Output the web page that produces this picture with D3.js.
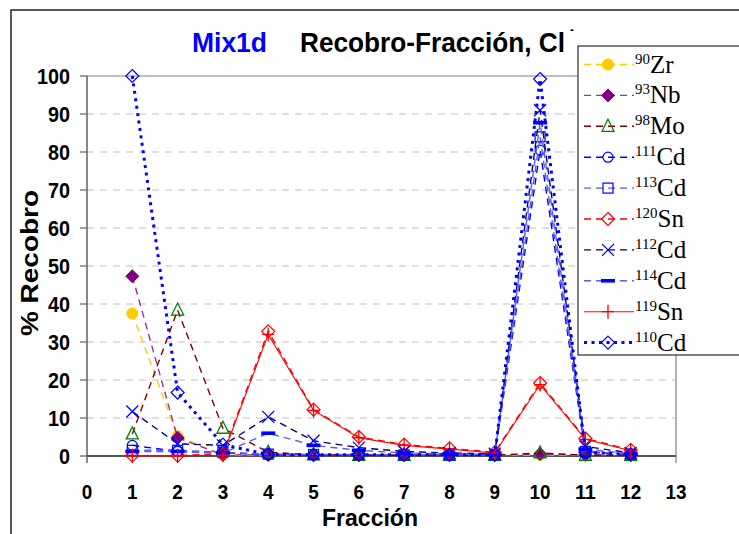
<!DOCTYPE html>
<html><head><meta charset="utf-8">
<script src="https://cdn.jsdelivr.net/npm/d3@7"></script>
<style>body{margin:0;background:#fff}svg{display:block}</style>
</head><body>
<svg id="c" width="739" height="534"></svg>
<script>
const fracciones = [1,2,3,4,5,6,7,8,9,10,11,12];
const xTicks = [0,1,2,3,4,5,6,7,8,9,10,11,12,13];
const yTicks = [0,10,20,30,40,50,60,70,80,90,100];
const zr90   = [37.5, 5.2, 0.3, 0.2, 0.2, 0.2, 0.2, 0.2, 0.2, 0.3, 0.2, 0.2];
const nb93   = [47.3, 4.8, 0.3, 0.3, 0.3, 0.3, 0.3, 0.3, 0.3, 0.5, 0.3, 0.2];
const mo98   = [5.8, 38.4, 7.3, 1.0, 0.3, 0.2, 0.2, 0.2, 0.2, 0.8, 0.2, 0.2];
const cd111  = [2.8, 1.2, 0.8, 0.4, 0.3, 0.3, 0.3, 0.3, 0.3, 80.5, 1.0, 0.5];
const cd113  = [1.5, 1.5, 1.0, 0.5, 0.4, 0.4, 0.3, 0.3, 0.3, 84.0, 1.2, 0.5];
const sn120  = [0.1, 0.1, 0.6, 32.8, 12.2, 5.0, 3.0, 2.0, 1.0, 19.2, 4.6, 1.6];
const cd112  = [11.7, 3.2, 2.8, 10.3, 4.0, 2.2, 1.2, 0.8, 0.6, 91.0, 2.5, 0.8];
const cd114  = [1.2, 1.2, 0.8, 6.0, 2.8, 1.5, 0.8, 0.6, 0.4, 87.7, 1.8, 0.6];
const sn119  = [0.0, 0.0, 0.2, 32.0, 12.0, 4.8, 2.8, 1.8, 0.8, 18.8, 4.4, 1.4];
const cd110  = [100, 16.7, 3.0, 0.4, 0.3, 0.3, 0.3, 0.3, 0.3, 99.2, 1.0, 0.4];

const series = [
  {mass:"90", el:"Zr", values:zr90, line:"#FFCC00", dash:"7,5", w:1.4, marker:"circleFill", mc:"#FFCC00"},
  {mass:"93", el:"Nb", values:nb93, line:"#993399", dash:"7,5", w:1.4, marker:"diamondFill", mc:"#800080"},
  {mass:"98", el:"Mo", values:mo98, line:"#800000", dash:"7,5", w:1.4, marker:"triangle", mc:"#008000"},
  {mass:"111", el:"Cd", values:cd111, line:"#0000FF", dash:"7,5", w:1.4, marker:"circle", mc:"#0000FF"},
  {mass:"113", el:"Cd", values:cd113, line:"#5A5AFF", dash:"7,5", w:1.4, marker:"square", mc:"#0000FF"},
  {mass:"120", el:"Sn", values:sn120, line:"#FF0000", dash:"7,5", w:1.4, marker:"diamond", mc:"#FF0000"},
  {mass:"112", el:"Cd", values:cd112, line:"#000080", dash:"7,5", w:1.4, marker:"x", mc:"#0000FF"},
  {mass:"114", el:"Cd", values:cd114, line:"#5A5AFF", dash:"7,5", w:1.4, marker:"dash", mc:"#0000FF"},
  {mass:"119", el:"Sn", values:sn119, line:"#FF0000", dash:null, w:1.1, marker:"plus", mc:"#FF0000"},
  {mass:"110", el:"Cd", values:cd110, line:"#0000FF", dash:"3,4.5", w:3, marker:"diamond", mc:"#0000FF"}
];

const svg = d3.select("#c");
const x = d3.scaleLinear().domain([0,13]).range([87,676]);
const y = d3.scaleLinear().domain([0,100]).range([456,76]);

// outer frame
svg.append("path").attr("d","M11,540 L11,10 L745,10").attr("fill","none").attr("stroke","#222").attr("stroke-width",1.5);

function txt(g, s, px, py, size, anchor, len, opts={}){
  const t = g.append("text").attr("x",px).attr("y",py).text(s)
    .attr("font-family","'Liberation Sans',Arial,sans-serif").attr("font-weight","bold")
    .attr("font-size",size).attr("text-anchor",anchor).attr("fill",opts.fill||"#000");
  if(len){ t.attr("textLength",len).attr("lengthAdjust","spacingAndGlyphs"); }
  if(opts.transform) t.attr("transform",opts.transform);
  return t;
}

// gridlines
svg.append("g").selectAll("line").data(yTicks.filter(v=>v>0&&v<100)).join("line")
  .attr("x1",x(0)).attr("x2",x(13)).attr("y1",d=>y(d)).attr("y2",d=>y(d))
  .attr("stroke","#C0C0C0").attr("stroke-width",1.2).attr("stroke-dasharray","7,6");
// plot border top & right
svg.append("path").attr("d",`M${x(0)},${y(100)} L${x(13)},${y(100)} L${x(13)},463`)
  .attr("fill","none").attr("stroke","#808080").attr("stroke-width",1.2);
// y axis
svg.append("line").attr("x1",x(0)).attr("x2",x(0)).attr("y1",y(100)).attr("y2",463)
  .attr("stroke","#606060").attr("stroke-width",1.5);
svg.append("g").selectAll("line").data(yTicks).join("line")
  .attr("x1",80).attr("x2",x(0)).attr("y1",d=>y(d)).attr("y2",d=>y(d))
  .attr("stroke","#606060").attr("stroke-width",1.2);
// zero line
svg.append("line").attr("x1",x(0)).attr("x2",x(13)).attr("y1",y(0)).attr("y2",y(0))
  .attr("stroke","#555").attr("stroke-width",2.2);

// tick labels
const gl = svg.append("g");
yTicks.forEach(v=>{ const s=String(v); txt(gl, s, 70, y(v)+8, 22, "end", s.length*11); });
xTicks.forEach(v=>{ const s=String(v); txt(gl, s, x(v), 499, 21, "middle", s.length*10.5); });

// titles
txt(svg, "Mix1d", 192, 52, 28, "start", 75, {fill:"#0000FF"});
const tt = svg.append("text").attr("x",300).attr("y",52)
  .attr("font-family","'Liberation Sans',Arial,sans-serif").attr("font-weight","bold")
  .attr("font-size",28).attr("fill","#000");
tt.append("tspan").text("Recobro-Fracción, Cl").attr("textLength",265).attr("lengthAdjust","spacingAndGlyphs");
tt.append("tspan").text("-").attr("font-size",12).attr("dx",5).attr("dy",-18);
txt(svg, "Fracción", 370, 526, 23, "middle", 96);
txt(svg, "% Recobro", 0, 0, 24, "middle", 146, {transform:"translate(38,263) rotate(-90)"});

// markers
function drawMarker(g, type, cx, cy, col){
  switch(type){
    case "circleFill": g.append("circle").attr("cx",cx).attr("cy",cy).attr("r",5.5).attr("fill",col).attr("stroke",col); break;
    case "circle": g.append("circle").attr("cx",cx).attr("cy",cy).attr("r",5).attr("fill","none").attr("stroke",col).attr("stroke-width",1.2); break;
    case "diamondFill": g.append("path").attr("d",`M${cx},${cy-6.5}L${cx+6.5},${cy}L${cx},${cy+6.5}L${cx-6.5},${cy}Z`).attr("fill",col).attr("stroke",col); break;
    case "diamond": g.append("path").attr("d",`M${cx},${cy-6.5}L${cx+6.5},${cy}L${cx},${cy+6.5}L${cx-6.5},${cy}Z`).attr("fill","none").attr("stroke",col).attr("stroke-width",1.2); break;
    case "triangle": g.append("path").attr("d",`M${cx},${cy-7}L${cx+6},${cy+5}L${cx-6},${cy+5}Z`).attr("fill","none").attr("stroke",col).attr("stroke-width",1.3); break;
    case "square": g.append("rect").attr("x",cx-5).attr("y",cy-5).attr("width",10).attr("height",10).attr("fill","none").attr("stroke",col).attr("stroke-width",1.2); break;
    case "x": g.append("path").attr("d",`M${cx-6},${cy-6}L${cx+6},${cy+6}M${cx-6},${cy+6}L${cx+6},${cy-6}`).attr("stroke",col).attr("stroke-width",1.3); break;
    case "plus": g.append("path").attr("d",`M${cx-6},${cy}L${cx+6},${cy}M${cx},${cy-7}L${cx},${cy+7}`).attr("stroke",col).attr("stroke-width",1.3); break;
    case "dash": g.append("rect").attr("x",cx-7).attr("y",cy-1.8).attr("width",14).attr("height",3.6).attr("fill",col); break;
  }
}

const line = d3.line().x((d,i)=>x(fracciones[i])).y(d=>y(d));
const gd = svg.append("g");
series.forEach(s=>{
  const p = gd.append("path").attr("d",line(s.values)).attr("fill","none")
    .attr("stroke",s.line).attr("stroke-width",s.w);
  if(s.dash) p.attr("stroke-dasharray",s.dash);
  const gm = gd.append("g");
  s.values.forEach((v,i)=>drawMarker(gm, s.marker, x(fracciones[i]), y(v), s.mc));
});

// legend
const lg = svg.append("g");
lg.append("rect").attr("x",578).attr("y",46).attr("width",180).attr("height",309)
  .attr("fill","#fff").attr("stroke","#000").attr("stroke-width",1);
series.forEach((s,i)=>{
  const cy = 64.5 + i*30.9;
  const p = lg.append("line").attr("x1",584).attr("x2",634).attr("y1",cy).attr("y2",cy)
    .attr("stroke",s.line).attr("stroke-width",s.w);
  if(s.dash) p.attr("stroke-dasharray", s.dash);
  drawMarker(lg, s.marker, 608, cy, s.mc);
  const t = lg.append("text").attr("x",635).attr("y",cy+8)
    .attr("font-family","'Liberation Serif','Times New Roman',serif").attr("font-size",25).attr("fill","#000");
  t.append("tspan").text(s.mass).attr("font-size",15).attr("dy",-9);
  t.append("tspan").text(s.el).attr("dy",9);
});
</script>
</body></html>
